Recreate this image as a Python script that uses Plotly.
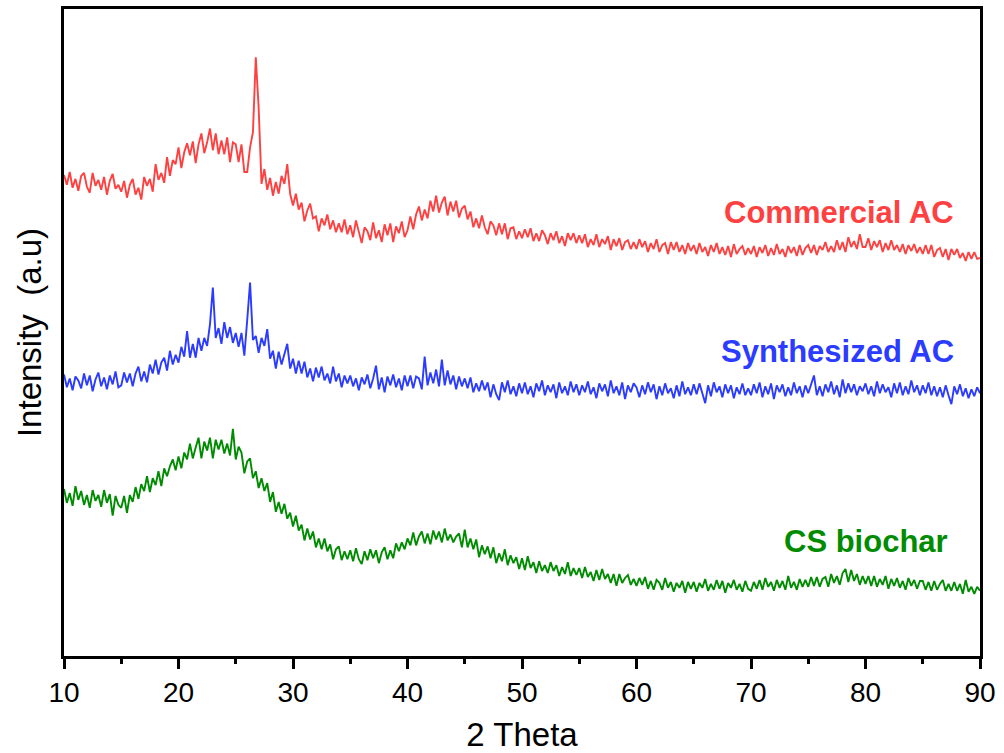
import numpy as np
import plotly.graph_objects as go

# 2-theta grid: 10 to 90 degrees, 0.25 degree step
two_theta = np.round(10 + 0.25 * np.arange(321), 2)

# Offset intensities (a.u.) for each sample, one row per 5 degrees
commercial_ac = [
    487, 477, 490, 474, 483, 471, 486, 489, 475, 469, 489, 476, 482, 472, 485, 467, 481, 488, 473, 477,
    470, 481, 464, 477, 483, 467, 474, 462, 485, 476, 483, 470, 498, 482, 489, 479, 505, 486, 502, 498,
    515, 494, 510, 519, 507, 521, 499, 518, 529, 509, 520, 534, 512, 529, 508, 522, 508, 525, 500, 520,
    518, 500, 518, 490, 490, 515, 530, 606, 555, 478, 493, 472, 484, 466, 480, 468, 486, 478, 498, 468,
    456, 468, 452, 459, 440, 451, 458, 443, 445, 430, 443, 436, 447, 432, 441, 429, 438, 429, 442, 427,
    436, 424, 441, 429, 418, 434, 430, 421, 439, 423, 431, 419, 437, 426, 438, 419, 435, 428, 440, 424,
    431, 445, 432, 447, 455, 441, 452, 443, 461, 450, 466, 449, 459, 465, 446, 460, 450, 461, 444, 453,
    456, 442, 450, 434, 443, 433, 446, 434, 427, 440, 436, 426, 438, 427, 438, 422, 433, 434, 422, 430,
    423, 432, 424, 433, 420, 428, 420, 431, 426, 417, 428, 421, 430, 418, 425, 415, 428, 421, 428, 418,
    426, 418, 427, 414, 422, 416, 427, 414, 422, 417, 425, 411, 422, 415, 423, 411, 419, 421, 412, 419,
    412, 422, 414, 420, 409, 418, 412, 422, 409, 416, 418, 407, 419, 411, 419, 409, 416, 407, 418, 410,
    416, 407, 418, 409, 414, 405, 416, 409, 418, 407, 414, 406, 415, 404, 417, 407, 412, 415, 406, 413,
    407, 415, 404, 414, 408, 416, 405, 413, 406, 417, 407, 412, 404, 415, 408, 414, 405, 416, 406, 413,
    416, 408, 416, 406, 415, 411, 419, 409, 415, 409, 421, 411, 419, 409, 424, 414, 420, 412, 427, 414,
    414, 423, 411, 420, 414, 421, 409, 418, 411, 421, 411, 416, 409, 417, 407, 416, 410, 417, 408, 414,
    407, 416, 407, 416, 404, 411, 413, 404, 412, 401, 412, 406, 412, 403, 408, 400, 409, 402, 409, 402,
    403,
]

synthesized_ac = [
    285, 272, 281, 269, 283, 279, 271, 286, 274, 284, 268, 280, 287, 273, 282, 270, 284, 275, 288, 272,
    274, 287, 277, 286, 273, 286, 293, 278, 288, 277, 295, 286, 300, 285, 297, 302, 289, 309, 295, 305,
    297, 313, 303, 329, 302, 316, 302, 322, 309, 322, 314, 336, 373, 322, 332, 316, 338, 322, 333, 317,
    327, 313, 327, 304, 340, 378, 320, 324, 307, 322, 314, 331, 301, 309, 291, 308, 295, 307, 316, 291,
    301, 286, 299, 286, 298, 282, 291, 278, 292, 282, 293, 279, 286, 276, 293, 278, 286, 272, 284, 276,
    284, 273, 281, 269, 282, 275, 285, 271, 281, 294, 270, 282, 267, 283, 274, 285, 272, 281, 269, 284,
    273, 284, 271, 283, 281, 270, 303, 274, 287, 276, 290, 273, 300, 274, 289, 275, 284, 270, 283, 273,
    281, 271, 282, 267, 276, 268, 279, 269, 277, 262, 275, 265, 259, 277, 267, 279, 265, 273, 263, 276,
    266, 277, 265, 273, 262, 276, 268, 279, 264, 274, 267, 275, 261, 277, 266, 273, 264, 278, 267, 275,
    264, 274, 267, 278, 265, 272, 261, 276, 268, 275, 263, 279, 266, 273, 264, 277, 260, 274, 267, 276,
    272, 262, 274, 265, 277, 267, 275, 260, 273, 264, 276, 266, 271, 261, 274, 263, 278, 265, 272, 264,
    275, 265, 276, 266, 256, 274, 263, 277, 267, 273, 262, 275, 266, 274, 261, 272, 265, 276, 264, 271,
    264, 275, 266, 277, 262, 273, 265, 276, 260, 274, 267, 275, 263, 272, 264, 277, 266, 273, 262, 274,
    266, 275, 284, 264, 273, 263, 275, 267, 278, 265, 274, 262, 280, 266, 276, 267, 275, 264, 273, 268,
    276, 265, 273, 263, 278, 266, 275, 267, 272, 262, 276, 266, 277, 264, 273, 265, 279, 267, 274, 264,
    274, 266, 277, 264, 273, 263, 272, 262, 274, 264, 255, 273, 265, 275, 263, 271, 261, 270, 263, 272,
    266,
]

cs_biochar = [
    169, 155, 165, 152, 172, 158, 167, 153, 163, 150, 168, 157, 163, 151, 168, 155, 164, 142, 162, 153,
    150, 162, 145, 163, 156, 171, 159, 174, 167, 182, 166, 180, 173, 187, 172, 190, 182, 192, 199, 188,
    202, 190, 206, 199, 215, 200, 211, 221, 200, 217, 208, 221, 200, 219, 209, 219, 205, 215, 203, 230,
    199, 212, 206, 185, 197, 200, 180, 187, 170, 180, 167, 175, 156, 166, 146, 156, 144, 154, 139, 145,
    131, 142, 127, 133, 117, 129, 118, 126, 110, 119, 108, 119, 106, 113, 98, 108, 111, 97, 106, 98,
    107, 96, 109, 98, 93, 106, 97, 108, 99, 107, 94, 105, 110, 98, 107, 99, 114, 106, 115, 108,
    119, 112, 125, 112, 121, 126, 114, 124, 113, 127, 118, 126, 115, 129, 117, 123, 115, 121, 124, 110,
    128, 110, 119, 108, 118, 100, 112, 103, 111, 99, 110, 94, 104, 96, 108, 92, 102, 94, 100, 88,
    99, 87, 101, 89, 95, 84, 96, 86, 92, 84, 95, 86, 92, 81, 90, 83, 95, 81, 89, 82,
    89, 79, 90, 80, 85, 76, 87, 77, 88, 78, 83, 74, 83, 71, 83, 74, 79, 82, 72, 78,
    71, 79, 72, 80, 68, 76, 67, 77, 74, 67, 79, 69, 75, 65, 74, 69, 76, 64, 75, 68,
    75, 65, 74, 69, 78, 66, 73, 67, 77, 68, 76, 64, 74, 69, 77, 67, 73, 65, 76, 68,
    66, 75, 68, 77, 67, 79, 70, 75, 66, 77, 69, 76, 67, 81, 69, 75, 67, 78, 70, 77,
    70, 80, 71, 80, 70, 78, 80, 70, 83, 74, 81, 72, 84, 88, 75, 87, 76, 83, 72, 81,
    73, 81, 71, 81, 70, 78, 72, 81, 68, 78, 71, 79, 69, 76, 67, 79, 71, 77, 68, 76,
    76, 67, 75, 66, 76, 67, 73, 77, 66, 73, 66, 75, 66, 73, 63, 77, 65, 70, 63, 70,
    66,
]

series = [
    ("Commercial AC", commercial_ac, "#ff4040"),
    ("Synthesized AC", synthesized_ac, "#2b3bff"),
    ("CS biochar", cs_biochar, "#008c00"),
]

# Label anchor points (right edge of each label, in data units)
label_x = [87.9, 87.9, 87.4]
label_y = [449, 308, 116]

FONT = "Liberation Sans, Arial"

fig = go.Figure()
for name, vals, color in series:
    fig.add_trace(go.Scatter(
        x=two_theta, y=vals, mode="lines", name=name,
        line=dict(color=color, width=1.9),
    ))

for (name, vals, color), lx, ly in zip(series, label_x, label_y):
    fig.add_annotation(
        x=lx, y=ly, xref="x", yref="y", text="<b>%s</b>" % name,
        showarrow=False, xanchor="right", yanchor="middle",
        font=dict(family=FONT, size=31, color=color),
    )

fig.update_layout(
    width=1004, height=753,
    margin=dict(l=64, r=24, t=6, b=92),
    paper_bgcolor="white", plot_bgcolor="white",
    showlegend=False,
    xaxis=dict(
        range=[10, 90], tickvals=[10, 20, 30, 40, 50, 60, 70, 80, 90],
        ticks="outside", ticklen=10, tickwidth=2.5, tickcolor="black",
        minor=dict(tickvals=[15, 25, 35, 45, 55, 65, 75, 85], ticks="outside",
                   ticklen=5, tickwidth=2.5, tickcolor="black"),
        showline=True, linewidth=2.5, linecolor="black", mirror=True,
        showgrid=False, zeroline=False,
        tickfont=dict(family=FONT, size=28, color="black"),
        title=dict(text="2 Theta", font=dict(family=FONT, size=33, color="black"), standoff=16),
    ),
    yaxis=dict(
        range=[0, 655], showticklabels=False, ticks="",
        showline=True, linewidth=2.5, linecolor="black", mirror=True,
        showgrid=False, zeroline=False,
        title=dict(text="Intensity  (a.u)", font=dict(family=FONT, size=33, color="black"), standoff=10),
    ),
)

fig.write_html("out.html")
